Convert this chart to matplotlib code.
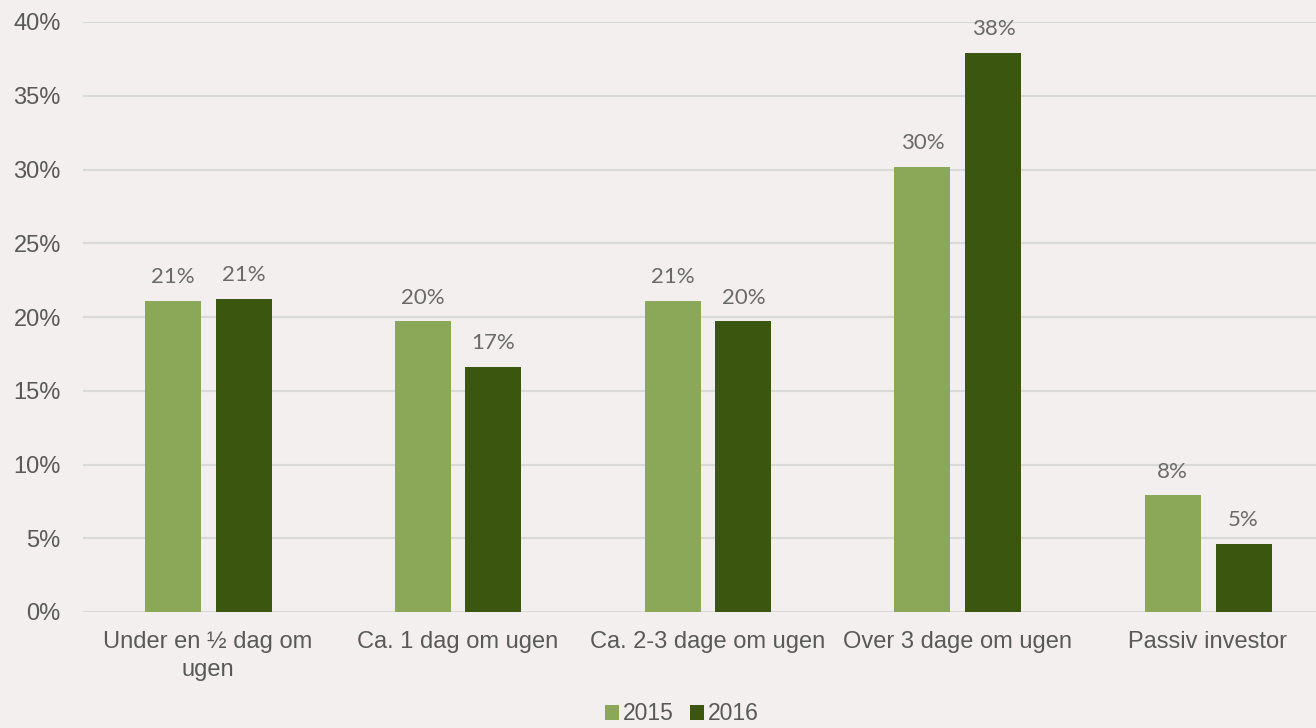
import numpy as np
import matplotlib.pyplot as plt
from matplotlib.ticker import PercentFormatter

categories = ['Under en ½ dag om\nugen', 'Ca. 1 dag om ugen', 'Ca. 2-3 dage om ugen',
              'Over 3 dage om ugen', 'Passiv investor']
v2015 = [21.1, 19.7, 21.1, 30.2, 7.9]
v2016 = [21.2, 16.6, 19.7, 37.9, 4.6]

bg = '#F2EFEE'
c2015 = '#8BA758'
c2016 = '#3A560F'
txt = '#595959'

plt.rcParams['font.family'] = ['Liberation Sans', 'DejaVu Sans']

fig = plt.figure(figsize=(13.16, 7.28), dpi=100, facecolor=bg)
ax = fig.add_axes([83 / 1316, 116 / 728, 1250 / 1316, 590 / 728])
ax.set_facecolor(bg)

x = np.arange(len(categories))
w = 0.224
off = 0.142
b1 = ax.bar(x - off, v2015, w, color=c2015, label='2015', zorder=3)
b2 = ax.bar(x + off, v2016, w, color=c2016, label='2016', zorder=3)

for bars, vals in ((b1, v2015), (b2, v2016)):
    for b, v in zip(bars, vals):
        ax.annotate(f'{v:.0f}%', (b.get_x() + b.get_width() / 2, v),
                    xytext=(0, 10), textcoords='offset points',
                    ha='center', va='bottom', fontsize=16, color='#6a6a6a',
                    family=['Lato', 'DejaVu Sans'], fontweight='normal')

ax.set_xlim(-0.5, 4.5)
ax.set_ylim(0, 40)
ax.set_yticks(np.arange(0, 41, 5))
ax.yaxis.set_major_formatter(PercentFormatter(decimals=0))
ax.set_xticks(x)
ax.set_xticklabels(categories, linespacing=1.3)
ax.tick_params(axis='both', length=0, labelsize=17, labelcolor=txt)
ax.tick_params(axis='x', pad=14)
ax.tick_params(axis='y', pad=16)
ax.grid(axis='y', color='#D9D9D9', linewidth=1.5, zorder=0)
for s in ax.spines.values():
    s.set_visible(False)

leg = ax.legend(loc='center', ncol=2, frameon=False,
                fontsize=16.5, labelcolor=txt, handlelength=0.6, handleheight=0.6,
                handletextpad=0.2, columnspacing=0.7, borderpad=0.2,
                bbox_to_anchor=(682 / 1316, 14 / 728), bbox_transform=fig.transFigure)

fig.savefig('out.png', dpi=100, facecolor=bg)
